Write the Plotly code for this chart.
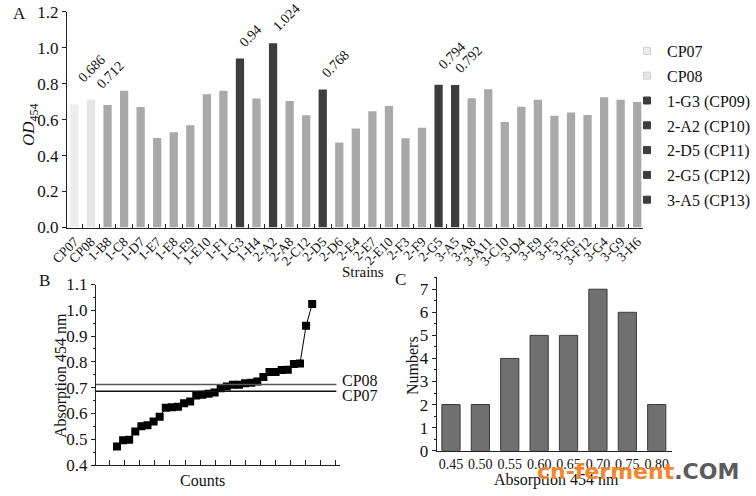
import plotly.graph_objects as go

# ---------------- data ----------------
strains = ["CP07", "CP08", "1-B8", "1-C8", "1-D7", "1-E7", "1-E8", "1-E9", "1-E10", "1-F1",
           "1-G3", "1-H4", "2-A2", "2-A8", "2-C12", "2-D5", "2-D6", "2-E4", "2-E7", "2-E10",
           "2-F3", "2-F9", "2-G5", "3-A5", "3-A8", "3-A11", "3-C10", "3-D4", "3-E9", "3-F5",
           "3-F6", "3-F12", "3-G4", "3-G9", "3-H6"]
od454 = [0.686, 0.712, 0.681, 0.761, 0.670, 0.498, 0.530, 0.569, 0.741, 0.761,
         0.940, 0.717, 1.024, 0.704, 0.624, 0.768, 0.472, 0.550, 0.646, 0.676,
         0.496, 0.554, 0.794, 0.792, 0.719, 0.769, 0.587, 0.672, 0.711, 0.622,
         0.639, 0.626, 0.724, 0.711, 0.698]
# legend group for each strain ("" = ordinary grey bar)
groups = ["CP07", "CP08", "", "", "", "", "", "", "", "",
          "1-G3 (CP09)", "", "2-A2 (CP10)", "", "", "2-D5 (CP11)", "", "", "", "",
          "", "", "2-G5 (CP12)", "3-A5 (CP13)", "", "", "", "", "", "",
          "", "", "", "", ""]
value_labels = {"CP07": "0.686", "CP08": "0.712", "1-G3": "0.94", "2-A2": "1.024",
                "2-D5": "0.768", "2-G5": "0.794", "3-A5": "0.792"}
legend_order = ["CP07", "CP08", "1-G3 (CP09)", "2-A2 (CP10)", "2-D5 (CP11)", "2-G5 (CP12)", "3-A5 (CP13)"]
legend_colors = ["#ededed", "#e6e6e6", "#3d3d3d", "#3d3d3d", "#3d3d3d", "#3d3d3d", "#3d3d3d"]
grey_color = "#a9a9a9"

# panel B: sorted absorbance of the 33 strains
sorted_abs = [0.472, 0.496, 0.498, 0.530, 0.550, 0.554, 0.569, 0.587, 0.622, 0.624, 0.626,
              0.639, 0.646, 0.670, 0.672, 0.676, 0.681, 0.698, 0.704, 0.711, 0.711, 0.717,
              0.719, 0.724, 0.741, 0.761, 0.761, 0.768, 0.769, 0.792, 0.794, 0.940, 1.024]
cp07_value = 0.686
cp08_value = 0.712

# panel C: histogram
bins = [0.45, 0.50, 0.55, 0.60, 0.65, 0.70, 0.75, 0.80]
bin_labels = ["0.45", "0.50", "0.55", "0.60", "0.65", "0.70", "0.75", "0.80"]
counts = [2, 2, 4, 5, 5, 7, 6, 2]

# ---------------- figure ----------------
W, H = 756, 496
SERIF = "Liberation Serif, Times New Roman, serif"

def px_x(p):
    return p / W

def px_y(p):
    return 1 - p / H

# label offsets (pixels) for the value labels
label_shift = {"CP07": (-2, 16), "CP08": (0, 6), "2-G5": (-6, 10)}

fig = go.Figure()
idx = list(range(len(strains)))

# bars of panel A, one trace per colour group
gx = [i for i in idx if groups[i] == ""]
fig.add_trace(go.Bar(x=gx, y=[od454[i] for i in gx], marker_color=grey_color,
                     marker_line_width=0, width=0.5, showlegend=False,
                     xaxis="x", yaxis="y"))
for name, col in zip(legend_order, legend_colors):
    sx = [i for i in idx if groups[i] == name]
    fig.add_trace(go.Bar(x=sx, y=[od454[i] for i in sx], marker_color=col,
                         marker_line_width=0, width=0.5, name=name, showlegend=False,
                         legendgroup=name, xaxis="x", yaxis="y"))
    # legend entry with a small square symbol
    fig.add_trace(go.Scatter(x=[None], y=[None], mode="markers", name=name,
                             legendgroup=name,
                             marker=dict(symbol="square", size=7, color=col,
                                         line=dict(color="#d0d0d0" if col.startswith("#e") else col,
                                                   width=1)),
                             xaxis="x", yaxis="y"))

# value labels
for i in idx:
    if strains[i] in value_labels:
        dx, dy = label_shift.get(strains[i], (-6, 6))
        fig.add_annotation(x=i, y=od454[i], xref="x", yref="y",
                           text=value_labels[strains[i]],
                           textangle=-45, showarrow=False, xanchor="left", yanchor="bottom",
                           xshift=dx, yshift=dy,
                           font=dict(family=SERIF, size=14, color="#111"))

# panel B
bx = list(range(len(sorted_abs)))
fig.add_trace(go.Scatter(x=bx, y=sorted_abs, mode="lines+markers",
                         marker=dict(symbol="square", size=8, color="#000"),
                         line=dict(color="#000", width=1), showlegend=False,
                         xaxis="x2", yaxis="y2"))
fig.add_shape(type="line", xref="x2 domain", yref="y2", x0=0, x1=0.985,
              y0=cp08_value, y1=cp08_value, line=dict(color="#555", width=1.5))
fig.add_shape(type="line", xref="x2 domain", yref="y2", x0=0, x1=0.985,
              y0=cp07_value, y1=cp07_value, line=dict(color="#111", width=1.5))
fig.add_annotation(xref="x2 domain", yref="y2", x=1.0, y=cp08_value, text="CP08",
                   showarrow=False, xanchor="left", yanchor="middle", yshift=4,
                   font=dict(family=SERIF, size=16, color="#111"))
fig.add_annotation(xref="x2 domain", yref="y2", x=1.0, y=cp07_value, text="CP07",
                   showarrow=False, xanchor="left", yanchor="middle", yshift=-4,
                   font=dict(family=SERIF, size=16, color="#111"))

# panel C
fig.add_trace(go.Bar(x=bins, y=counts, width=0.031, marker_color="#707070",
                     marker_line=dict(color="#3a3a3a", width=1), showlegend=False,
                     xaxis="x3", yaxis="y3"))

axis_common = dict(showline=True, linecolor="#222", linewidth=1, showgrid=False,
                   zeroline=False, tickcolor="#222", automargin=False,
                   ticklabeloverflow="allow",
                   tickfont=dict(family=SERIF, size=16, color="#111"))

fig.update_layout(
    width=W, height=H, margin=dict(l=0, r=0, t=0, b=0, autoexpand=False),
    paper_bgcolor="white", plot_bgcolor="white", barmode="overlay",
    xaxis=dict(axis_common, domain=[px_x(67), px_x(643)], range=[-0.45, 34.35],
               tickmode="array", tickvals=idx, ticktext=strains, tickangle=-45,
               ticks="", tickfont=dict(family=SERIF, size=13.5, color="#111"),
               minor=dict(tickvals=[i + 0.5 for i in idx[:-1]], ticks="inside",
                          ticklen=4, tickcolor="#222"),
               anchor="y"),
    yaxis=dict(axis_common, domain=[px_y(227.5), px_y(11.7)], range=[0, 1.2],
               dtick=0.2, tickformat=".1f", ticks="outside", ticklen=4,
               tickfont=dict(family=SERIF, size=17, color="#111"), anchor="x"),
    xaxis2=dict(axis_common, domain=[px_x(96), px_x(340)], range=[-3.44, 36.56],
                tickmode="linear", tick0=-1.15, dtick=2.46, ticks="inside", ticklen=5,
                showticklabels=False, anchor="y2"),
    yaxis2=dict(axis_common, domain=[px_y(465), px_y(284.5)], range=[0.4, 1.1],
                dtick=0.1, tickformat=".1f", ticks="outside", ticklen=4,
                minor=dict(dtick=0.05, ticks="outside", ticklen=2, tickcolor="#222"),
                tickfont=dict(family=SERIF, size=17, color="#111"), anchor="x2"),
    xaxis3=dict(axis_common, domain=[px_x(436.7), px_x(671.7)], range=[0.4257, 0.8255],
                tickmode="array", tickvals=bins, ticktext=bin_labels, ticks="",
                tickfont=dict(family=SERIF, size=14, color="#111"), anchor="y3"),
    yaxis3=dict(axis_common, domain=[px_y(450.7), px_y(277)], range=[0, 7.53],
                dtick=1, ticks="outside", ticklen=4,
                minor=dict(dtick=0.5, ticks="outside", ticklen=2, tickcolor="#222"),
                tickfont=dict(family=SERIF, size=17, color="#111"), anchor="x3"),
    legend=dict(x=px_x(627), y=px_y(34), xanchor="left", yanchor="top",
                font=dict(family=SERIF, size=16, color="#111"),
                tracegroupgap=1, itemwidth=30, bgcolor="rgba(0,0,0,0)"),
)

def txt(x, y, text, size=15, angle=0, **kw):
    fig.add_annotation(xref="paper", yref="paper", x=px_x(x), y=px_y(y), text=text,
                       showarrow=False, textangle=angle, xanchor="center", yanchor="middle",
                       font=dict(family=SERIF, size=size, color="#111"), **kw)

txt(19, 13, "A", 17)
txt(44, 280, "B", 17)
txt(400, 279, "C", 17)
txt(30, 125, "<i>OD</i><sub>454</sub>", 17, -90)
txt(363, 272, "Strains", 15)
txt(61, 376, "Absorption 454 nm", 16, -90)
txt(202, 480, "Counts", 16)
txt(412, 366, "Numbers", 16, -90)
txt(556, 480, "Absorption 454 nm", 16)

# watermark
fig.add_annotation(xref="paper", yref="paper", x=px_x(741), y=px_y(471),
                   text="<b><span style='color:#f7862a'>cn-ferment</span>"
                        "<span style='color:#5b5b5b'>.COM</span></b>",
                   showarrow=False, xanchor="right", yanchor="middle",
                   font=dict(family="DejaVu Sans", size=22))

# remove the default page margin so the figure sits at the window's top-left corner
fig.write_html("out.html", config={"displayModeBar": False},
               post_script="document.body.style.margin='0px';")
